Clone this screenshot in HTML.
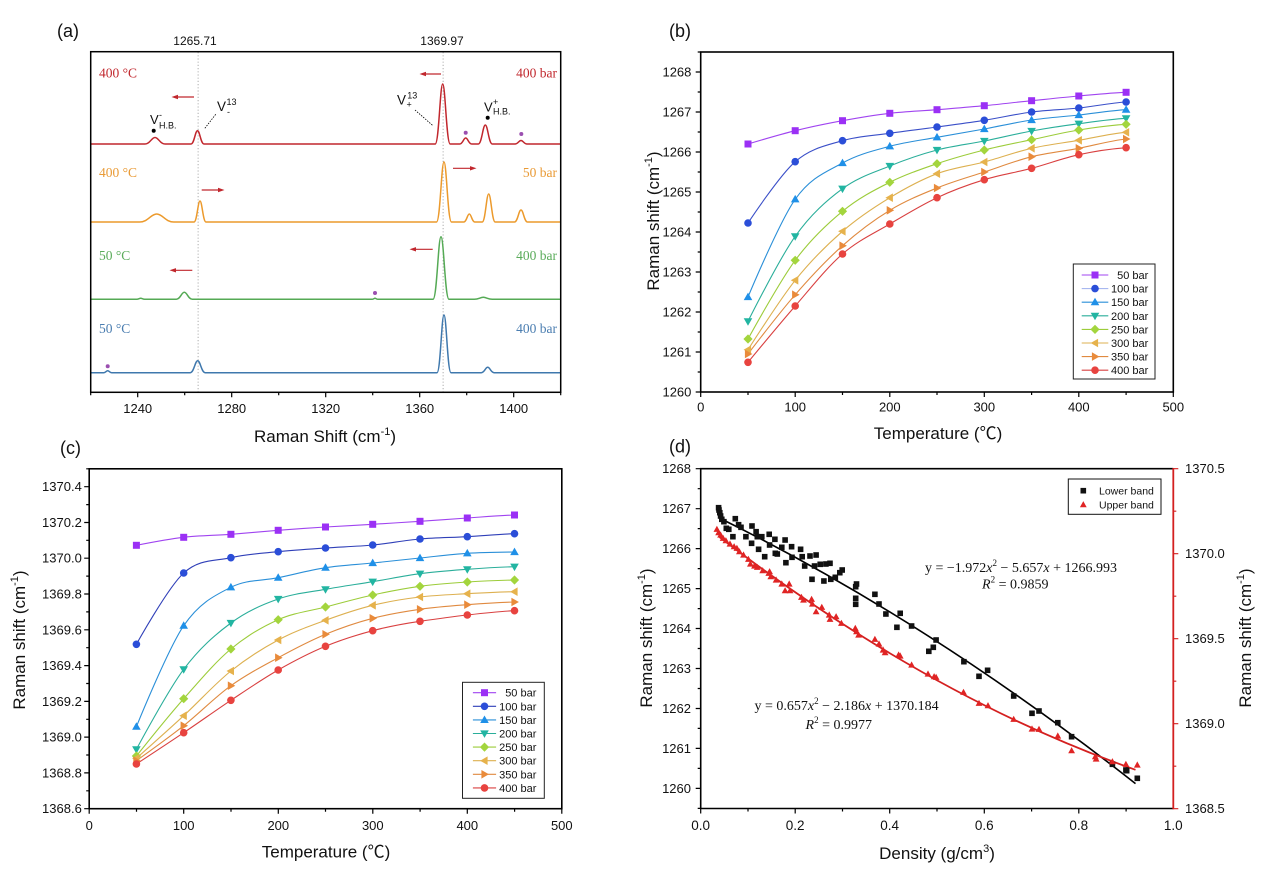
<!DOCTYPE html>
<html><head><meta charset="utf-8">
<style>
html,body{margin:0;padding:0;background:#fff}
svg{display:block}
text{font-family:"Liberation Sans","Noto Sans CJK SC",sans-serif;fill:#111}
.sf{font-family:"Liberation Serif","Noto Serif CJK SC",serif}
</style></head>
<body>
<svg width="1270" height="880" viewBox="0 0 1270 880" xmlns="http://www.w3.org/2000/svg">
<defs>
<rect id="sq" x="-3.5" y="-3.5" width="7" height="7"/>
<circle id="ci" r="3.8"/>
<path id="tu" d="M0,-4.4 L4.3,3.1 L-4.3,3.1Z"/>
<path id="td" d="M0,4.4 L4.3,-3.1 L-4.3,-3.1Z"/>
<path id="di" d="M0,-4.6 L4.6,0 L0,4.6 L-4.6,0Z"/>
<path id="tl" d="M-4.4,0 L3.1,-4.3 L3.1,4.3Z"/>
<path id="tr" d="M4.4,0 L-3.1,-4.3 L-3.1,4.3Z"/>
<rect id="bs" x="-2.8" y="-2.8" width="5.6" height="5.6"/>
<path id="rt" d="M0,-3.6 L3.4,2.6 L-3.4,2.6Z"/>
</defs>
<rect width="1270" height="880" fill="#fff"/>

<!-- ================= PANEL (a) ================= -->
<text x="57" y="37" font-size="18">(a)</text>
<text x="195" y="45" font-size="12" text-anchor="middle">1265.71</text>
<text x="442" y="45" font-size="12" text-anchor="middle">1369.97</text>
<line x1="198.1" y1="52" x2="198.1" y2="392" stroke="#9a9a9a" stroke-width="0.8" stroke-dasharray="1.2,2"/>
<line x1="443.1" y1="52" x2="443.1" y2="392" stroke="#9a9a9a" stroke-width="0.8" stroke-dasharray="1.2,2"/>

<!-- spectra -->
<path fill="none" stroke="#c1272d" stroke-width="1.5" d="M90.7,144 L145,144 C150,144 151.5,137.5 155,137.5 C158.5,137.5 160,144 165,144 L191,144 C194.25,144 195.2,130.7 197.5,130.7 C199.8,130.7 200.75,144 204,144 L435.2,144 C438.95,144 440.1,84 442.7,84 C445.3,84 446.45,144 450.2,144 L459.7,144 C462.7,144 463.6,138 465.7,138 C467.8,138 468.7,144 471.7,144 L478.3,144 C481.8,144 482.85,125 485.3,125 C487.75,125 488.8,144 492.3,144 L515,144 C518,144 518.9,140.5 521,140.5 C523.1,140.5 524,144 527,144 L560.7,144"/>
<path fill="none" stroke="#ec9a2c" stroke-width="1.5" d="M90.7,222 L139.7,222 C148.2,222 150.75,214 156.7,214 C162.65,214 165.2,222 173.7,222 L194,222 C197,222 197.9,201 200,201 C202.1,201 203,222 206,222 L436.5,222 C440.25,222 441.4,162 444,162 C446.6,162 447.75,222 451.5,222 L463.8,222 C466.55,222 467.4,214 469.3,214 C471.2,214 472.05,222 474.8,222 L482.2,222 C485.45,222 486.4,194 488.7,194 C491,194 491.95,222 495.2,222 L514.5,222 C517.75,222 518.7,210 521,210 C523.3,210 524.25,222 527.5,222 L560.7,222"/>
<path fill="none" stroke="#55aa55" stroke-width="1.5" d="M90.7,299.3 L136.7,299.3 C138.7,299.3 139.3,298.3 140.7,298.3 C142.1,298.3 142.7,299.3 144.7,299.3 L176.3,299.3 C180.3,299.3 181.5,292.3 184.3,292.3 C187.1,292.3 188.3,299.3 192.3,299.3 L372,299.3 C373.5,299.3 374,298.3 375,298.3 C376,298.3 376.5,299.3 378,299.3 L433,299.3 C437,299.3 438.2,236.7 441,236.7 C443.8,236.7 445,299.3 449,299.3 L474.3,299.3 C478.8,299.3 480.15,297.3 483.3,297.3 C486.45,297.3 487.8,299.3 492.3,299.3 L560.7,299.3"/>
<path fill="none" stroke="#3f78ad" stroke-width="1.5" d="M90.7,372.7 L103.7,372.7 C105.7,372.7 106.3,370.7 107.7,370.7 C109.1,370.7 109.7,372.7 111.7,372.7 L190.2,372.7 C193.95,372.7 195.1,360.7 197.7,360.7 C200.3,360.7 201.45,372.7 205.2,372.7 L437,372.7 C440.5,372.7 441.55,315 444,315 C446.45,315 447.5,372.7 451,372.7 L481.2,372.7 C484.45,372.7 485.4,367.3 487.7,367.3 C490,367.3 490.95,372.7 494.2,372.7 L560.7,372.7"/>

<!-- dots -->
<g fill="#9b4fb0">
<circle cx="465.7" cy="132.7" r="2"/><circle cx="521.3" cy="134" r="2"/><circle cx="375" cy="293" r="2"/><circle cx="107.7" cy="366.3" r="2"/>
</g>
<g fill="#000">
<circle cx="153.7" cy="130.7" r="2"/><circle cx="487.7" cy="117.7" r="2"/>
</g>

<!-- annotations -->
<text x="150" y="124" font-size="13">V</text>
<text x="159" y="118" font-size="9">-</text>
<text x="159" y="128.5" font-size="9">H.B.</text>
<text x="217" y="111" font-size="13.5">V</text>
<text x="226.5" y="105" font-size="9">13</text>
<text x="227" y="115" font-size="9">-</text>
<text x="397" y="104.5" font-size="13.5">V</text>
<text x="407.3" y="98.5" font-size="9">13</text>
<text x="406.5" y="107.5" font-size="9">+</text>
<text x="484" y="111.7" font-size="13">V</text>
<text x="493" y="105" font-size="9">+</text>
<text x="493" y="114.5" font-size="9">H.B.</text>
<line x1="215.7" y1="114.3" x2="204.3" y2="129" stroke="#000" stroke-width="0.8" stroke-dasharray="1.5,1.2"/>
<line x1="415" y1="110" x2="433.3" y2="126" stroke="#000" stroke-width="0.8" stroke-dasharray="1.5,1.2"/>

<!-- arrows -->
<g stroke="#c1272d" stroke-width="1.2" fill="#c1272d">
<line x1="176" y1="97" x2="194" y2="97"/><path stroke="none" d="M171.5,97 L178,94.8 L178,99.2Z"/>
<line x1="424" y1="74" x2="441" y2="74"/><path stroke="none" d="M419.5,74 L426,71.8 L426,76.2Z"/>
<line x1="201.7" y1="190" x2="220" y2="190"/><path stroke="none" d="M224.5,190 L218,187.8 L218,192.2Z"/>
<line x1="453" y1="168.3" x2="472" y2="168.3"/><path stroke="none" d="M476.5,168.3 L470,166.1 L470,170.5Z"/>
<line x1="174" y1="270.3" x2="192.3" y2="270.3"/><path stroke="none" d="M169.5,270.3 L176,268.1 L176,272.5Z"/>
<line x1="414" y1="249.3" x2="432.7" y2="249.3"/><path stroke="none" d="M409.5,249.3 L416,247.1 L416,251.5Z"/>
</g>

<!-- spectrum labels -->
<g class="sf" font-size="13.5">
<text class="sf" x="99" y="77.5" fill="#c1272d" style="fill:#c1272d">400 °C</text>
<text class="sf" x="557" y="77.5" text-anchor="end" style="fill:#c1272d">400 bar</text>
<text class="sf" x="99" y="177" style="fill:#e99a35">400 °C</text>
<text class="sf" x="557" y="177" text-anchor="end" style="fill:#e99a35">50 bar</text>
<text class="sf" x="99" y="260" style="fill:#5aab5a">50 °C</text>
<text class="sf" x="557" y="260" text-anchor="end" style="fill:#5aab5a">400 bar</text>
<text class="sf" x="99" y="333" style="fill:#4a7db0">50 °C</text>
<text class="sf" x="557" y="333" text-anchor="end" style="fill:#4a7db0">400 bar</text>
</g>

<!-- frame & ticks (a) -->
<rect x="90.7" y="51.7" width="470" height="340.6" fill="none" stroke="#000" stroke-width="1.5"/>
<path stroke="#000" stroke-width="1.2" fill="none" d="M137.7,392.3 v5 M231.7,392.3 v5 M325.7,392.3 v5 M419.7,392.3 v5 M513.7,392.3 v5 M90.7,392.3 v3 M184.7,392.3 v3 M278.7,392.3 v3 M372.7,392.3 v3 M466.7,392.3 v3 M560.7,392.3 v3"/>
<g font-size="13" text-anchor="middle">
<text x="137.7" y="413">1240</text><text x="231.7" y="413">1280</text><text x="325.7" y="413">1320</text><text x="419.7" y="413">1360</text><text x="513.7" y="413">1400</text>
</g>
<text x="325" y="442" font-size="17" text-anchor="middle">Raman Shift (cm<tspan font-size="11" dy="-7">-1</tspan><tspan dy="7">)</tspan></text>

<!-- ================= PANEL (b) ================= -->
<text x="669" y="37" font-size="18">(b)</text>
<g fill="none" stroke-width="1.1">
<path stroke="#a044f0" d="M748,144 S779.5,134.6 795.2,130.7 S826.7,123.6 842.5,120.7 S874,115.1 889.8,113.3 S921.3,111 937,109.7 S968.5,107.2 984.3,105.7 S1015.8,102.3 1031.6,100.7 S1063.1,97.4 1078.8,96 S1110.3,92.9 1126.1,92.3"/>
<path stroke="#3a4fc8" d="M748,223 S779.5,175.4 795.2,161.7 S826.7,145.4 842.5,140.7 S874,135.6 889.8,133.3 S921.3,129.2 937,127 S968.5,122.8 984.3,120.3 S1015.8,114.1 1031.6,112 S1063.1,109.7 1078.8,108 S1110.3,103 1126.1,102"/>
<path stroke="#2a8fd8" d="M748,297 S779.5,221.6 795.2,199.3 S826.7,171.8 842.5,163 S874,150.6 889.8,146.3 S921.3,140.2 937,137.3 S968.5,131.9 984.3,129 S1015.8,122.3 1031.6,120 S1063.1,116.7 1078.8,115 S1110.3,110.6 1126.1,109.7"/>
<path stroke="#2aae9a" d="M748,321.3 S779.5,258.4 795.2,236.3 S826.7,200.4 842.5,188.7 S874,172.5 889.8,166 S921.3,154.2 937,150 S968.5,144.2 984.3,141 S1015.8,133.9 1031.6,131 S1063.1,125.8 1078.8,123.7 S1110.3,119.2 1126.1,118.3"/>
<path stroke="#9ccc3a" d="M748,339 S779.5,281.6 795.2,260.3 S826.7,224.3 842.5,211.3 S874,190.2 889.8,182.3 S921.3,169.1 937,163.7 S968.5,154 984.3,150 S1015.8,143 1031.6,139.7 S1063.1,132.6 1078.8,130 S1110.3,125.3 1126.1,124.3"/>
<path stroke="#ddb050" d="M748,349.7 S779.5,300 795.2,280.3 S826.7,245.1 842.5,231.3 S874,207.3 889.8,197.7 S921.3,179.7 937,173.7 S968.5,166.2 984.3,162 S1015.8,151.9 1031.6,148.3 S1063.1,143 1078.8,140.3 S1110.3,133.6 1126.1,132.3"/>
<path stroke="#e08a40" d="M748,354 S779.5,312.8 795.2,294.7 S826.7,259.8 842.5,245.7 S874,219.9 889.8,210.3 S921.3,194.4 937,188 S968.5,177.2 984.3,172 S1015.8,160.7 1031.6,156.7 S1063.1,151.3 1078.8,148.3 S1110.3,140.6 1126.1,139"/>
<path stroke="#d94040" d="M748,362.3 S779.5,324.1 795.2,306 S826.7,267.7 842.5,254 S874,233.4 889.8,224 S921.3,205.1 937,197.7 S968.5,184.6 984.3,179.7 S1015.8,172.5 1031.6,168.3 S1063.1,158.1 1078.8,154.7 S1110.3,148.9 1126.1,147.7"/>
</g>
<g fill="#9b30f5"><use href="#sq" x="748" y="144"/><use href="#sq" x="795.2" y="130.7"/><use href="#sq" x="842.5" y="120.7"/><use href="#sq" x="889.8" y="113.3"/><use href="#sq" x="937" y="109.7"/><use href="#sq" x="984.3" y="105.7"/><use href="#sq" x="1031.6" y="100.7"/><use href="#sq" x="1078.8" y="96"/><use href="#sq" x="1126.1" y="92.3"/></g>
<g fill="#2b4ed8"><use href="#ci" x="748" y="223"/><use href="#ci" x="795.2" y="161.7"/><use href="#ci" x="842.5" y="140.7"/><use href="#ci" x="889.8" y="133.3"/><use href="#ci" x="937" y="127"/><use href="#ci" x="984.3" y="120.3"/><use href="#ci" x="1031.6" y="112"/><use href="#ci" x="1078.8" y="108"/><use href="#ci" x="1126.1" y="102"/></g>
<g fill="#1f90e8"><use href="#tu" x="748" y="297"/><use href="#tu" x="795.2" y="199.3"/><use href="#tu" x="842.5" y="163"/><use href="#tu" x="889.8" y="146.3"/><use href="#tu" x="937" y="137.3"/><use href="#tu" x="984.3" y="129"/><use href="#tu" x="1031.6" y="120"/><use href="#tu" x="1078.8" y="115"/><use href="#tu" x="1126.1" y="109.7"/></g>
<g fill="#22b5a2"><use href="#td" x="748" y="321.3"/><use href="#td" x="795.2" y="236.3"/><use href="#td" x="842.5" y="188.7"/><use href="#td" x="889.8" y="166"/><use href="#td" x="937" y="150"/><use href="#td" x="984.3" y="141"/><use href="#td" x="1031.6" y="131"/><use href="#td" x="1078.8" y="123.7"/><use href="#td" x="1126.1" y="118.3"/></g>
<g fill="#a3d53d"><use href="#di" x="748" y="339"/><use href="#di" x="795.2" y="260.3"/><use href="#di" x="842.5" y="211.3"/><use href="#di" x="889.8" y="182.3"/><use href="#di" x="937" y="163.7"/><use href="#di" x="984.3" y="150"/><use href="#di" x="1031.6" y="139.7"/><use href="#di" x="1078.8" y="130"/><use href="#di" x="1126.1" y="124.3"/></g>
<g fill="#e6b24c"><use href="#tl" x="748" y="349.7"/><use href="#tl" x="795.2" y="280.3"/><use href="#tl" x="842.5" y="231.3"/><use href="#tl" x="889.8" y="197.7"/><use href="#tl" x="937" y="173.7"/><use href="#tl" x="984.3" y="162"/><use href="#tl" x="1031.6" y="148.3"/><use href="#tl" x="1078.8" y="140.3"/><use href="#tl" x="1126.1" y="132.3"/></g>
<g fill="#e98b3b"><use href="#tr" x="748" y="354"/><use href="#tr" x="795.2" y="294.7"/><use href="#tr" x="842.5" y="245.7"/><use href="#tr" x="889.8" y="210.3"/><use href="#tr" x="937" y="188"/><use href="#tr" x="984.3" y="172"/><use href="#tr" x="1031.6" y="156.7"/><use href="#tr" x="1078.8" y="148.3"/><use href="#tr" x="1126.1" y="139"/></g>
<g fill="#e8433f"><use href="#ci" x="748" y="362.3"/><use href="#ci" x="795.2" y="306"/><use href="#ci" x="842.5" y="254"/><use href="#ci" x="889.8" y="224"/><use href="#ci" x="937" y="197.7"/><use href="#ci" x="984.3" y="179.7"/><use href="#ci" x="1031.6" y="168.3"/><use href="#ci" x="1078.8" y="154.7"/><use href="#ci" x="1126.1" y="147.7"/></g>

<!-- legend (b) -->
<rect x="1073.3" y="264" width="81.7" height="115" fill="#fff" stroke="#222" stroke-width="1"/>
<g stroke-width="1.1">
<line x1="1081.7" y1="275" x2="1108.3" y2="275" stroke="#a044f0"/>
<line x1="1081.7" y1="288.6" x2="1108.3" y2="288.6" stroke="#a8b8f0"/>
<line x1="1081.7" y1="302.2" x2="1108.3" y2="302.2" stroke="#2a8fd8"/>
<line x1="1081.7" y1="315.8" x2="1108.3" y2="315.8" stroke="#2aae9a"/>
<line x1="1081.7" y1="329.4" x2="1108.3" y2="329.4" stroke="#9ccc3a"/>
<line x1="1081.7" y1="343" x2="1108.3" y2="343" stroke="#ddb050"/>
<line x1="1081.7" y1="356.6" x2="1108.3" y2="356.6" stroke="#e08a40"/>
<line x1="1081.7" y1="370.2" x2="1108.3" y2="370.2" stroke="#d94040"/>
</g>
<use href="#sq" x="1095" y="275" fill="#9b30f5"/>
<use href="#ci" x="1095" y="288.6" fill="#2b4ed8"/>
<use href="#tu" x="1095" y="302.2" fill="#1f90e8"/>
<use href="#td" x="1095" y="315.8" fill="#22b5a2"/>
<use href="#di" x="1095" y="329.4" fill="#a3d53d"/>
<use href="#tl" x="1095" y="343" fill="#e6b24c"/>
<use href="#tr" x="1095" y="356.6" fill="#e98b3b"/>
<use href="#ci" x="1095" y="370.2" fill="#e8433f"/>
<g font-size="11" text-anchor="end">
<text x="1148.3" y="279">50  bar</text><text x="1148.3" y="292.6">100 bar</text><text x="1148.3" y="306.2">150 bar</text><text x="1148.3" y="319.8">200 bar</text><text x="1148.3" y="333.4">250 bar</text><text x="1148.3" y="347">300 bar</text><text x="1148.3" y="360.6">350 bar</text><text x="1148.3" y="374.2">400 bar</text>
</g>

<!-- frame (b) -->
<rect x="700.7" y="52" width="472.6" height="340" fill="none" stroke="#000" stroke-width="1.6"/>
<path stroke="#000" stroke-width="1.2" fill="none" d="M700.7,392 h-5 M700.7,352 h-5 M700.7,312 h-5 M700.7,272 h-5 M700.7,232 h-5 M700.7,192 h-5 M700.7,152 h-5 M700.7,112 h-5 M700.7,72 h-5 M700.7,372 h-3 M700.7,332 h-3 M700.7,292 h-3 M700.7,252 h-3 M700.7,212 h-3 M700.7,172 h-3 M700.7,132 h-3 M700.7,92 h-3 M700.7,52 h-3 M700.7,392 v5 M795.2,392 v5 M889.8,392 v5 M984.3,392 v5 M1078.8,392 v5 M1173.3,392 v5 M748,392 v3 M842.5,392 v3 M937,392 v3 M1031.6,392 v3 M1126.1,392 v3"/>
<g font-size="13" text-anchor="end">
<text x="691.4" y="396.5">1260</text><text x="691.4" y="356.5">1261</text><text x="691.4" y="316.5">1262</text><text x="691.4" y="276.5">1263</text><text x="691.4" y="236.5">1264</text><text x="691.4" y="196.5">1265</text><text x="691.4" y="156.5">1266</text><text x="691.4" y="116.5">1267</text><text x="691.4" y="76.5">1268</text>
</g>
<g font-size="13" text-anchor="middle">
<text x="700.7" y="411.5">0</text><text x="795.2" y="411.5">100</text><text x="889.8" y="411.5">200</text><text x="984.3" y="411.5">300</text><text x="1078.8" y="411.5">400</text><text x="1173.3" y="411.5">500</text>
</g>
<text x="938" y="439" font-size="17" text-anchor="middle">Temperature (℃)</text>
<text transform="translate(659,221) rotate(-90)" font-size="17" text-anchor="middle">Raman shift (cm<tspan font-size="11" dy="-7">-1</tspan><tspan dy="7">)</tspan></text>

<!-- ================= PANEL (c) ================= -->
<text x="60" y="454" font-size="18">(c)</text>
<g fill="none" stroke-width="1.1">
<path stroke="#a044f0" d="M136.4,545.3 S167.9,539.1 183.7,537.3 S215.1,535.5 230.9,534.3 S262.4,531.5 278.2,530.3 S309.7,528 325.5,527 S356.9,525.3 372.7,524.3 S404.2,522.4 420,521.3 S451.5,519.1 467.3,518 S498.7,515.5 514.5,515"/>
<path stroke="#2f3fb8" d="M136.4,644.3 S167.9,587.4 183.7,573 S215.1,561.3 230.9,557.7 S262.4,553.3 278.2,551.7 S309.7,549.1 325.5,548 S356.9,546.5 372.7,545 S404.2,540.4 420,539 S451.5,537.6 467.3,536.7 S498.7,534.2 514.5,533.7"/>
<path stroke="#2a8fd8" d="M136.4,726.7 S167.9,648.9 183.7,625.7 S215.1,595.3 230.9,587.3 S262.4,581 278.2,577.7 S309.7,570.2 325.5,567.7 S356.9,564.6 372.7,563 S404.2,559.6 420,558 S451.5,554.3 467.3,553.3 S498.7,552.2 514.5,552"/>
<path stroke="#2aae9a" d="M136.4,749.3 S167.9,690.4 183.7,669.3 S215.1,634.7 230.9,623 S262.4,604.6 278.2,599 S309.7,592.2 325.5,589.3 S356.9,584.3 372.7,581.7 S404.2,575.8 420,573.7 S451.5,570.5 467.3,569.3 S498.7,567.1 514.5,566.7"/>
<path stroke="#9ccc3a" d="M136.4,756 S167.9,716.5 183.7,698.7 S215.1,662.2 230.9,649 S262.4,626.7 278.2,619.7 S309.7,611.1 325.5,607 S356.9,598.5 372.7,595 S404.2,588.5 420,586.3 S451.5,583.1 467.3,582 S498.7,580.3 514.5,580"/>
<path stroke="#ddb050" d="M136.4,758.3 S167.9,730.3 183.7,715.7 S215.1,683.6 230.9,671 S262.4,648.5 278.2,640 S309.7,626.1 325.5,620.3 S356.9,609.2 372.7,605.3 S404.2,598.9 420,597 S451.5,594.6 467.3,593.7 S498.7,592 514.5,591.7"/>
<path stroke="#e08a40" d="M136.4,760.7 S167.9,738.2 183.7,725.7 S215.1,697 230.9,685.7 S262.4,666.3 278.2,657.7 S309.7,640.9 325.5,634.3 S356.9,622.5 372.7,618.3 S404.2,611.6 420,609.3 S451.5,605.9 467.3,604.7 S498.7,602.5 514.5,602"/>
<path stroke="#d94040" d="M136.4,764 S167.9,743.3 183.7,732.7 S215.1,710.8 230.9,700.3 S262.4,679 278.2,670 S309.7,652.9 325.5,646.3 S356.9,634.9 372.7,630.7 S404.2,623.6 420,621.3 S451.5,616.8 467.3,615 S498.7,611.4 514.5,610.7"/>
</g>
<g fill="#9b30f5"><use href="#sq" x="136.4" y="545.3"/><use href="#sq" x="183.7" y="537.3"/><use href="#sq" x="230.9" y="534.3"/><use href="#sq" x="278.2" y="530.3"/><use href="#sq" x="325.5" y="527"/><use href="#sq" x="372.7" y="524.3"/><use href="#sq" x="420" y="521.3"/><use href="#sq" x="467.3" y="518"/><use href="#sq" x="514.5" y="515"/></g>
<g fill="#2b4ed8"><use href="#ci" x="136.4" y="644.3"/><use href="#ci" x="183.7" y="573"/><use href="#ci" x="230.9" y="557.7"/><use href="#ci" x="278.2" y="551.7"/><use href="#ci" x="325.5" y="548"/><use href="#ci" x="372.7" y="545"/><use href="#ci" x="420" y="539"/><use href="#ci" x="467.3" y="536.7"/><use href="#ci" x="514.5" y="533.7"/></g>
<g fill="#1f90e8"><use href="#tu" x="136.4" y="726.7"/><use href="#tu" x="183.7" y="625.7"/><use href="#tu" x="230.9" y="587.3"/><use href="#tu" x="278.2" y="577.7"/><use href="#tu" x="325.5" y="567.7"/><use href="#tu" x="372.7" y="563"/><use href="#tu" x="420" y="558"/><use href="#tu" x="467.3" y="553.3"/><use href="#tu" x="514.5" y="552"/></g>
<g fill="#22b5a2"><use href="#td" x="136.4" y="749.3"/><use href="#td" x="183.7" y="669.3"/><use href="#td" x="230.9" y="623"/><use href="#td" x="278.2" y="599"/><use href="#td" x="325.5" y="589.3"/><use href="#td" x="372.7" y="581.7"/><use href="#td" x="420" y="573.7"/><use href="#td" x="467.3" y="569.3"/><use href="#td" x="514.5" y="566.7"/></g>
<g fill="#a3d53d"><use href="#di" x="136.4" y="756"/><use href="#di" x="183.7" y="698.7"/><use href="#di" x="230.9" y="649"/><use href="#di" x="278.2" y="619.7"/><use href="#di" x="325.5" y="607"/><use href="#di" x="372.7" y="595"/><use href="#di" x="420" y="586.3"/><use href="#di" x="467.3" y="582"/><use href="#di" x="514.5" y="580"/></g>
<g fill="#e6b24c"><use href="#tl" x="136.4" y="758.3"/><use href="#tl" x="183.7" y="715.7"/><use href="#tl" x="230.9" y="671"/><use href="#tl" x="278.2" y="640"/><use href="#tl" x="325.5" y="620.3"/><use href="#tl" x="372.7" y="605.3"/><use href="#tl" x="420" y="597"/><use href="#tl" x="467.3" y="593.7"/><use href="#tl" x="514.5" y="591.7"/></g>
<g fill="#e98b3b"><use href="#tr" x="136.4" y="760.7"/><use href="#tr" x="183.7" y="725.7"/><use href="#tr" x="230.9" y="685.7"/><use href="#tr" x="278.2" y="657.7"/><use href="#tr" x="325.5" y="634.3"/><use href="#tr" x="372.7" y="618.3"/><use href="#tr" x="420" y="609.3"/><use href="#tr" x="467.3" y="604.7"/><use href="#tr" x="514.5" y="602"/></g>
<g fill="#e8433f"><use href="#ci" x="136.4" y="764"/><use href="#ci" x="183.7" y="732.7"/><use href="#ci" x="230.9" y="700.3"/><use href="#ci" x="278.2" y="670"/><use href="#ci" x="325.5" y="646.3"/><use href="#ci" x="372.7" y="630.7"/><use href="#ci" x="420" y="621.3"/><use href="#ci" x="467.3" y="615"/><use href="#ci" x="514.5" y="610.7"/></g>

<!-- legend (c) -->
<rect x="462.5" y="682.3" width="81.8" height="116" fill="#fff" stroke="#222" stroke-width="1"/>
<g stroke-width="1.1">
<line x1="472.9" y1="692.7" x2="496.1" y2="692.7" stroke="#a044f0"/>
<line x1="472.9" y1="706.3" x2="496.1" y2="706.3" stroke="#2f3fb8"/>
<line x1="472.9" y1="719.9" x2="496.1" y2="719.9" stroke="#2a8fd8"/>
<line x1="472.9" y1="733.5" x2="496.1" y2="733.5" stroke="#2aae9a"/>
<line x1="472.9" y1="747.1" x2="496.1" y2="747.1" stroke="#9ccc3a"/>
<line x1="472.9" y1="760.7" x2="496.1" y2="760.7" stroke="#ddb050"/>
<line x1="472.9" y1="774.3" x2="496.1" y2="774.3" stroke="#e08a40"/>
<line x1="472.9" y1="787.9" x2="496.1" y2="787.9" stroke="#d94040"/>
</g>
<use href="#sq" x="484.5" y="692.7" fill="#9b30f5"/>
<use href="#ci" x="484.5" y="706.3" fill="#2b4ed8"/>
<use href="#tu" x="484.5" y="719.9" fill="#1f90e8"/>
<use href="#td" x="484.5" y="733.5" fill="#22b5a2"/>
<use href="#di" x="484.5" y="747.1" fill="#a3d53d"/>
<use href="#tl" x="484.5" y="760.7" fill="#e6b24c"/>
<use href="#tr" x="484.5" y="774.3" fill="#e98b3b"/>
<use href="#ci" x="484.5" y="787.9" fill="#e8433f"/>
<g font-size="11" text-anchor="end">
<text x="536.4" y="696.7">50  bar</text><text x="536.4" y="710.3">100 bar</text><text x="536.4" y="723.9">150 bar</text><text x="536.4" y="737.5">200 bar</text><text x="536.4" y="751.1">250 bar</text><text x="536.4" y="764.7">300 bar</text><text x="536.4" y="778.3">350 bar</text><text x="536.4" y="791.9">400 bar</text>
</g>

<!-- frame (c) -->
<rect x="89.2" y="468.8" width="472.6" height="339.9" fill="none" stroke="#000" stroke-width="1.6"/>
<path stroke="#000" stroke-width="1.2" fill="none" d="M89.2,808.7 h-5 M89.2,772.9 h-5 M89.2,737.1 h-5 M89.2,701.4 h-5 M89.2,665.6 h-5 M89.2,629.8 h-5 M89.2,594 h-5 M89.2,558.2 h-5 M89.2,522.5 h-5 M89.2,486.7 h-5 M89.2,790.8 h-3 M89.2,755 h-3 M89.2,719.3 h-3 M89.2,683.5 h-3 M89.2,647.7 h-3 M89.2,611.9 h-3 M89.2,576.1 h-3 M89.2,540.3 h-3 M89.2,504.6 h-3 M89.2,468.8 h-3 M89.2,808.7 v5 M183.7,808.7 v5 M278.3,808.7 v5 M372.8,808.7 v5 M467.3,808.7 v5 M561.8,808.7 v5 M136.5,808.7 v3 M231,808.7 v3 M325.5,808.7 v3 M420.1,808.7 v3 M514.6,808.7 v3"/>
<g font-size="13" text-anchor="end">
<text x="81.8" y="813.2">1368.6</text><text x="81.8" y="777.4">1368.8</text><text x="81.8" y="741.6">1369.0</text><text x="81.8" y="705.9">1369.2</text><text x="81.8" y="670.1">1369.4</text><text x="81.8" y="634.3">1369.6</text><text x="81.8" y="598.5">1369.8</text><text x="81.8" y="562.7">1370.0</text><text x="81.8" y="527">1370.2</text><text x="81.8" y="491.2">1370.4</text>
</g>
<g font-size="13" text-anchor="middle">
<text x="89.2" y="830">0</text><text x="183.7" y="830">100</text><text x="278.3" y="830">200</text><text x="372.8" y="830">300</text><text x="467.3" y="830">400</text><text x="561.8" y="830">500</text>
</g>
<text x="326" y="857.5" font-size="17" text-anchor="middle">Temperature (℃)</text>
<text transform="translate(25,640) rotate(-90)" font-size="17" text-anchor="middle">Raman shift (cm<tspan font-size="11" dy="-7">-1</tspan><tspan dy="7">)</tspan></text>

<!-- ================= PANEL (d) ================= -->
<text x="669" y="452.5" font-size="18">(d)</text>
<!-- fit lines -->
<path fill="none" stroke="#000" stroke-width="1.6" d="M719.6,518.1 Q927.6,620.3 1135.5,783.6"/>
<path fill="none" stroke="#d42020" stroke-width="1.8" d="M719.6,537.1 Q927.6,696.7 1135.5,769.8"/>
<!-- lower band -->
<g fill="#111">
<use href="#bs" x="718.6" y="507.7"/><use href="#bs" x="719" y="510"/><use href="#bs" x="719.8" y="512.7"/><use href="#bs" x="720.6" y="516"/><use href="#bs" x="721.8" y="519.3"/><use href="#bs" x="723.9" y="521.7"/><use href="#bs" x="726.3" y="528.3"/><use href="#bs" x="728.8" y="529.3"/><use href="#bs" x="732.9" y="536.7"/><use href="#bs" x="735.3" y="518.7"/><use href="#bs" x="738.6" y="524.7"/><use href="#bs" x="741" y="527.3"/><use href="#bs" x="745.9" y="536.7"/><use href="#bs" x="751.6" y="543.3"/><use href="#bs" x="752" y="526"/><use href="#bs" x="756.1" y="531.7"/><use href="#bs" x="757.3" y="536.7"/><use href="#bs" x="758.6" y="549.3"/><use href="#bs" x="761.8" y="536.7"/><use href="#bs" x="764.7" y="556.7"/><use href="#bs" x="769.2" y="534.3"/><use href="#bs" x="769.6" y="545"/><use href="#bs" x="774.9" y="539.3"/><use href="#bs" x="775.3" y="553.3"/><use href="#bs" x="777.3" y="554"/><use href="#bs" x="781.8" y="547.3"/><use href="#bs" x="785.1" y="540"/><use href="#bs" x="785.9" y="562.7"/><use href="#bs" x="791.6" y="546.7"/><use href="#bs" x="792" y="557.3"/><use href="#bs" x="800.6" y="549.3"/><use href="#bs" x="802.2" y="556.7"/><use href="#bs" x="804.7" y="566"/><use href="#bs" x="810" y="556"/><use href="#bs" x="812" y="579.3"/><use href="#bs" x="814.5" y="566"/><use href="#bs" x="816.1" y="555"/><use href="#bs" x="820.2" y="564.3"/><use href="#bs" x="823.9" y="581"/><use href="#bs" x="825.9" y="564"/><use href="#bs" x="830" y="563.3"/><use href="#bs" x="830.8" y="579.3"/><use href="#bs" x="835.3" y="577.3"/><use href="#bs" x="839.8" y="572.7"/><use href="#bs" x="842.2" y="570"/><use href="#bs" x="855.7" y="586.7"/><use href="#bs" x="856.5" y="584"/><use href="#bs" x="855.7" y="598.3"/><use href="#bs" x="855.7" y="604.3"/><use href="#bs" x="874.9" y="594.3"/><use href="#bs" x="879" y="604"/><use href="#bs" x="885.9" y="614"/><use href="#bs" x="900.2" y="613.3"/><use href="#bs" x="896.9" y="627.3"/><use href="#bs" x="911.6" y="626"/><use href="#bs" x="928.8" y="651.3"/><use href="#bs" x="933.3" y="647.3"/><use href="#bs" x="936.1" y="640"/><use href="#bs" x="963.9" y="661.7"/><use href="#bs" x="979" y="676.3"/><use href="#bs" x="987.6" y="670.3"/><use href="#bs" x="1013.7" y="696"/><use href="#bs" x="1032" y="713.3"/><use href="#bs" x="1039" y="711"/><use href="#bs" x="1057.8" y="722.7"/><use href="#bs" x="1071.6" y="736.7"/><use href="#bs" x="1112.4" y="764.3"/><use href="#bs" x="1125.9" y="770"/><use href="#bs" x="1126.7" y="770.7"/><use href="#bs" x="1137.3" y="778.3"/>
</g>
<!-- upper band -->
<g fill="#e02424">
<use href="#rt" x="716.9" y="529.3"/><use href="#rt" x="718.6" y="532.7"/><use href="#rt" x="720.6" y="535"/><use href="#rt" x="723.1" y="538.3"/><use href="#rt" x="725.9" y="540.7"/><use href="#rt" x="730" y="544"/><use href="#rt" x="734.1" y="546.7"/><use href="#rt" x="736.9" y="548.3"/><use href="#rt" x="739.4" y="551.7"/><use href="#rt" x="743.5" y="555"/><use href="#rt" x="748.4" y="559.3"/><use href="#rt" x="750.4" y="564"/><use href="#rt" x="754.5" y="566"/><use href="#rt" x="757.3" y="567.3"/><use href="#rt" x="762.7" y="570.7"/><use href="#rt" x="768.8" y="573.3"/><use href="#rt" x="769.6" y="571.7"/><use href="#rt" x="770.8" y="576.7"/><use href="#rt" x="776.1" y="580"/><use href="#rt" x="781.8" y="584"/><use href="#rt" x="785.1" y="590.7"/><use href="#rt" x="789.2" y="584"/><use href="#rt" x="790" y="590.7"/><use href="#rt" x="801.4" y="597.3"/><use href="#rt" x="803.5" y="600"/><use href="#rt" x="811.6" y="599.3"/><use href="#rt" x="812.4" y="604"/><use href="#rt" x="816.1" y="611.7"/><use href="#rt" x="821.8" y="607.3"/><use href="#rt" x="829.2" y="615"/><use href="#rt" x="830" y="619.3"/><use href="#rt" x="836.1" y="616.7"/><use href="#rt" x="841.4" y="623.3"/><use href="#rt" x="855.3" y="628.3"/><use href="#rt" x="856.5" y="631.7"/><use href="#rt" x="858.6" y="635"/><use href="#rt" x="874.9" y="639.3"/><use href="#rt" x="879" y="644"/><use href="#rt" x="883.1" y="650"/><use href="#rt" x="885.1" y="652.7"/><use href="#rt" x="898.6" y="655"/><use href="#rt" x="900.2" y="656"/><use href="#rt" x="911.6" y="665"/><use href="#rt" x="928" y="674"/><use href="#rt" x="934.1" y="676.7"/><use href="#rt" x="936.1" y="677.3"/><use href="#rt" x="963.5" y="692.3"/><use href="#rt" x="979" y="703.3"/><use href="#rt" x="988" y="705.7"/><use href="#rt" x="1013.7" y="719.3"/><use href="#rt" x="1032" y="729"/><use href="#rt" x="1039" y="729.3"/><use href="#rt" x="1057.8" y="736"/><use href="#rt" x="1071.6" y="750.7"/><use href="#rt" x="1095.3" y="756.7"/><use href="#rt" x="1096.1" y="759"/><use href="#rt" x="1112.4" y="761.7"/><use href="#rt" x="1125.9" y="764.3"/><use href="#rt" x="1137.3" y="765"/>
</g>

<!-- equations -->
<text class="sf" x="925" y="572" font-size="14">y = −1.972<tspan font-style="italic">x</tspan><tspan font-size="9" dy="-6">2</tspan><tspan dy="6"> − 5.657</tspan><tspan font-style="italic">x</tspan> + 1266.993</text>
<text class="sf" x="982" y="588.5" font-size="14"><tspan font-style="italic">R</tspan><tspan font-size="9" dy="-6">2</tspan><tspan dy="6"> = 0.9859</tspan></text>
<text class="sf" x="754.5" y="710" font-size="14">y = 0.657<tspan font-style="italic">x</tspan><tspan font-size="9" dy="-6">2</tspan><tspan dy="6"> − 2.186</tspan><tspan font-style="italic">x</tspan> + 1370.184</text>
<text class="sf" x="805.5" y="729" font-size="14"><tspan font-style="italic">R</tspan><tspan font-size="9" dy="-6">2</tspan><tspan dy="6"> = 0.9977</tspan></text>

<!-- legend (d) -->
<rect x="1068.3" y="479" width="92.7" height="35.3" fill="#fff" stroke="#111" stroke-width="1"/>
<use href="#bs" x="1083.3" y="490.7" fill="#111"/>
<use href="#rt" x="1083.3" y="504.7" fill="#e02424"/>
<text x="1099" y="494.5" font-size="10.5">Lower band</text>
<text x="1099" y="508.5" font-size="10.5">Upper band</text>

<!-- frame (d) -->
<path fill="none" stroke="#000" stroke-width="1.6" d="M1173.3,468.7 H700.7 V808.5 H1173.3"/>
<line x1="1173.3" y1="468" x2="1173.3" y2="809.3" stroke="#d42020" stroke-width="1.8"/>
<path stroke="#000" stroke-width="1.2" fill="none" d="M700.7,468.7 h-5 M700.7,508.7 h-5 M700.7,548.6 h-5 M700.7,588.6 h-5 M700.7,628.5 h-5 M700.7,668.5 h-5 M700.7,708.5 h-5 M700.7,748.4 h-5 M700.7,788.4 h-5 M700.7,488.7 h-3 M700.7,528.6 h-3 M700.7,568.6 h-3 M700.7,608.6 h-3 M700.7,648.5 h-3 M700.7,688.5 h-3 M700.7,728.4 h-3 M700.7,768.4 h-3 M700.7,808.4 h-3 M700.7,808.5 v5 M795.2,808.5 v5 M889.7,808.5 v5 M984.3,808.5 v5 M1078.8,808.5 v5 M748,808.5 v3 M842.5,808.5 v3 M937,808.5 v3 M1031.6,808.5 v3 M1126.1,808.5 v3"/>
<path stroke="#d42020" stroke-width="1.2" fill="none" d="M1173.3,468.7 h5 M1173.3,553.7 h5 M1173.3,638.7 h5 M1173.3,723.7 h5 M1173.3,808.7 h5 M1173.3,511.2 h3 M1173.3,596.2 h3 M1173.3,681.2 h3 M1173.3,766.2 h3"/>
<g font-size="13" text-anchor="end">
<text x="691" y="473.2">1268</text><text x="691" y="513.2">1267</text><text x="691" y="553.1">1266</text><text x="691" y="593.1">1265</text><text x="691" y="633">1264</text><text x="691" y="673">1263</text><text x="691" y="713">1262</text><text x="691" y="752.9">1261</text><text x="691" y="792.9">1260</text>
</g>
<g font-size="13">
<text x="1185" y="473.2">1370.5</text><text x="1185" y="558.2">1370.0</text><text x="1185" y="643.2">1369.5</text><text x="1185" y="728.2">1369.0</text><text x="1185" y="813.2">1368.5</text>
</g>
<g font-size="13.5" text-anchor="middle">
<text x="700.7" y="830">0.0</text><text x="795.2" y="830">0.2</text><text x="889.7" y="830">0.4</text><text x="984.3" y="830">0.6</text><text x="1078.8" y="830">0.8</text><text x="1173.3" y="830">1.0</text>
</g>
<text x="937" y="859" font-size="17" text-anchor="middle">Density (g/cm<tspan font-size="11" dy="-7">3</tspan><tspan dy="7">)</tspan></text>
<text transform="translate(652,638) rotate(-90)" font-size="17" text-anchor="middle">Raman shift (cm<tspan font-size="11" dy="-7">-1</tspan><tspan dy="7">)</tspan></text>
<text transform="translate(1251,638) rotate(-90)" font-size="17" text-anchor="middle">Raman shift (cm<tspan font-size="11" dy="-7">-1</tspan><tspan dy="7">)</tspan></text>
</svg>
</body></html>
